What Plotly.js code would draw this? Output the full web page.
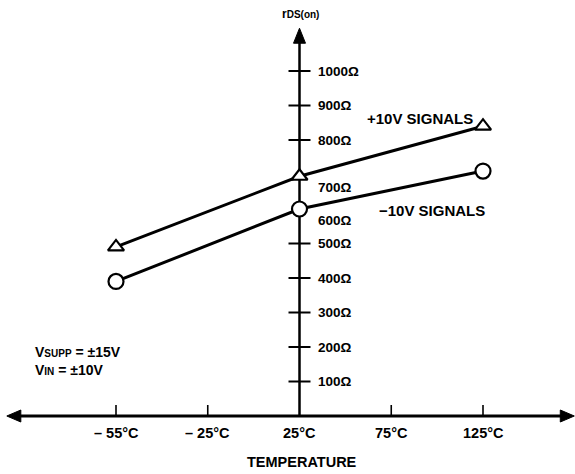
<!DOCTYPE html>
<html><head><meta charset="utf-8">
<script src="https://cdn.plot.ly/plotly-3.0.1.min.js"></script>
<style>html,body{margin:0;padding:0;background:#fff;}</style>
</head><body><div id="chart" style="width:575px;height:474px;"></div>
<script>
// ---- data ----
const temperatureLabels = ['– 55°C', '– 25°C', '25°C', '75°C', '125°C'];
const temperatureIndex = [0, 1, 2, 3, 4];
const seriesNames = ['+10V SIGNALS', '−10V SIGNALS'];
const plusSignalTempIndex = [0, 2, 4];
const plusSignalRds = [490, 695, 840];
const minusSignalTempIndex = [0, 2, 4];
const minusSignalRds = [390, 600, 710];
const yTickVals = [100, 200, 300, 400, 500, 600, 700, 800, 900, 1000];
const yTickLabels = ['100Ω', '200Ω', '300Ω', '400Ω', '500Ω', '600Ω', '700Ω', '800Ω', '900Ω', '1000Ω'];
const yAxisTitle = "r<span style='font-size:10px'>DS(on)</span>";
const xAxisTitle = 'TEMPERATURE';
const conditionsText = "V<span style='font-size:10px'>SUPP</span> = ±15V<br>V<span style='font-size:10px'>IN</span> = ±10V";

// ---- styling ----
const FONT = 'Liberation Sans, Arial, Helvetica, sans-serif';
const INK = '#000000';
const yAxisAt = 2;           // y axis crosses at 25°C
const xRange = [-1.2643, 5.0027];
const yRange = [-168.1, 1205.8];

const shapes = [];
const annotations = [];

// axis lines
shapes.push({type:'line', layer:'below', xref:'x', yref:'y', x0:-1.12, x1:4.93, y0:0, y1:0,
  line:{color:INK, width:3}});
shapes.push({type:'line', layer:'below', xref:'x', yref:'y', x0:yAxisAt, x1:yAxisAt, y0:0, y1:1100,
  line:{color:INK, width:2.5}});
// arrow heads (pixel-sized paths anchored at the axis ends)
shapes.push({type:'path', layer:'below', xref:'x', yref:'y', xsizemode:'pixel', ysizemode:'pixel',
  xanchor:4.995, yanchor:0, path:'M0,0 L-14,6 L-14,-6 Z', fillcolor:INK, line:{color:INK, width:1}});
shapes.push({type:'path', layer:'below', xref:'x', yref:'y', xsizemode:'pixel', ysizemode:'pixel',
  xanchor:-1.19, yanchor:0, path:'M0,0 L14,6 L14,-6 Z', fillcolor:INK, line:{color:INK, width:1}});
shapes.push({type:'path', layer:'below', xref:'x', yref:'y', xsizemode:'pixel', ysizemode:'pixel',
  xanchor:yAxisAt, yanchor:1124, path:'M0,0 L-6,-15 L6,-15 Z', fillcolor:INK, line:{color:INK, width:1}});

// y ticks (crossing) and labels
const labelShift = {600:-11, 700:-13};
yTickVals.forEach((v, i) => {
  if (!(v in labelShift)) {
    shapes.push({type:'line', layer:'below', xref:'x', yref:'y', xsizemode:'pixel', xanchor:yAxisAt,
      x0:-11, x1:11, y0:v, y1:v, line:{color:INK, width:2}});
  }
  annotations.push({xref:'x', yref:'y', x:yAxisAt, y:v, xanchor:'left', yanchor:'middle',
    xshift:16, yshift:(labelShift[v] || 0), text:yTickLabels[i], showarrow:false,
    font:{family:FONT, size:13.5, color:INK, weight:700}});
});

// x ticks and labels
temperatureIndex.forEach((t, i) => {
  if (t !== yAxisAt) {
    shapes.push({type:'line', layer:'below', xref:'x', yref:'y', ysizemode:'pixel', yanchor:0,
      x0:t, x1:t, y0:0, y1:11, line:{color:INK, width:1.6}});
  }
  annotations.push({xref:'x', yref:'y', x:t, y:0, xanchor:'center', yanchor:'middle', yshift:-17,
    text:temperatureLabels[i], showarrow:false, font:{family:FONT, size:14.5, color:INK, weight:700}});
});

// titles and notes
annotations.push({xref:'paper', yref:'paper', x:300/575, y:(474-14)/474, xanchor:'center', yanchor:'middle',
  text:yAxisTitle, showarrow:false, font:{family:FONT, size:12, color:INK, weight:700}});
annotations.push({xref:'paper', yref:'paper', x:302/575, y:(474-462)/474, xanchor:'center', yanchor:'middle',
  text:xAxisTitle, showarrow:false, font:{family:FONT, size:14.5, color:INK, weight:700}});
annotations.push({xref:'paper', yref:'paper', x:33/575, y:(474-361)/474, xanchor:'left', yanchor:'middle', align:'left',
  text:conditionsText, showarrow:false, font:{family:FONT, size:14, color:INK, weight:700}});

// series labels anchored near the series' last point
annotations.push({xref:'x', yref:'y', x:plusSignalTempIndex[2], y:plusSignalRds[2], xanchor:'right', yanchor:'middle',
  xshift:-8, yshift:8, text:seriesNames[0], showarrow:false, font:{family:FONT, size:15, color:INK, weight:700}});
annotations.push({xref:'x', yref:'y', x:minusSignalTempIndex[2], y:minusSignalRds[2], xanchor:'right', yanchor:'middle',
  xshift:4, yshift:-39, text:seriesNames[1], showarrow:false, font:{family:FONT, size:15, color:INK, weight:700}});

const traces = [
  {x:plusSignalTempIndex, y:plusSignalRds, name:seriesNames[0], type:'scatter', mode:'lines+markers',
   line:{color:INK, width:3}, marker:{symbol:'triangle-up', size:14, color:'#ffffff', line:{color:INK, width:2.2}},
   hoverinfo:'skip'},
  {x:minusSignalTempIndex, y:minusSignalRds, name:seriesNames[1], type:'scatter', mode:'lines+markers',
   line:{color:INK, width:3}, marker:{symbol:'circle', size:15, color:'#ffffff', line:{color:INK, width:2.2}},
   hoverinfo:'skip'}
];

const layout = {
  width:575, height:474,
  margin:{l:0, r:0, t:0, b:0},
  paper_bgcolor:'#ffffff', plot_bgcolor:'#ffffff',
  showlegend:false,
  xaxis:{range:xRange, visible:false, fixedrange:true},
  yaxis:{range:yRange, visible:false, fixedrange:true},
  shapes:shapes,
  annotations:annotations
};

Plotly.newPlot('chart', traces, layout, {staticPlot:true, displayModeBar:false});
</script>
</body></html>
